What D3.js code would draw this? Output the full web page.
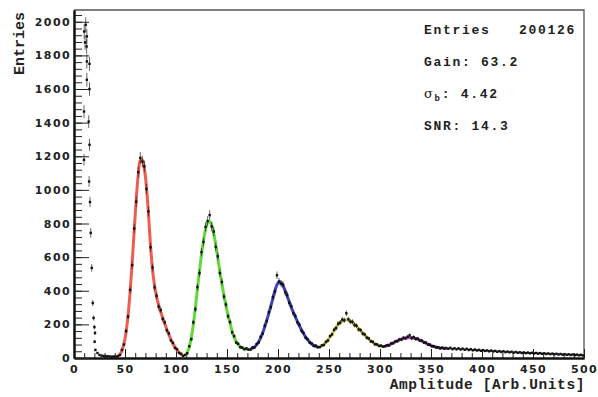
<!DOCTYPE html>
<html>
<head>
<meta charset="utf-8">
<script src="https://cdn.jsdelivr.net/npm/d3@7"></script>
<style>
  body { margin: 0; background: #fff; }
  .tick text { font-family: "DejaVu Sans", sans-serif; font-weight: bold; font-size: 11px; letter-spacing: 1.4px; fill: #222; }
  .tick line { stroke: #222; }
  .domain { stroke: #111; stroke-width: 2; }
  .mono { font-family: "Liberation Mono", "DejaVu Sans Mono", monospace; font-weight: bold; fill: #222; }
</style>
</head>
<body>
<div id="chart"></div>
<script>
// ---------------- data ----------------
// axis ticks
let xTicks = [0, 50, 100, 150, 200, 250, 300, 350, 400, 450, 500]
let yTicks = [0, 200, 400, 600, 800, 1000, 1200, 1400, 1600, 1800, 2000]
let yMax = 2070

// histogram bins are 2 units wide, each array starts at the given bin centre
let binWidth = 2

// pedestal edge, points read one by one (amplitude, entries)
let pedestalAmp = [11.5, 10.0, 12.6, 10.8, 12.4, 12.6, 15.2, 12.6, 15.2, 9.8, 14.4, 15.2, 9.8, 14.8,
                   15.7, 16.4, 17.4, 18.4, 19.2, 20.0, 20.6, 20.2, 21.0]
let pedestalCounts = [1982, 1942, 1913, 1877, 1853, 1764, 1750, 1655, 1600, 1466, 1406, 1268, 1179, 1050,
                      928, 744, 536, 327, 238, 184, 149, 97, 48]

// between pedestal and first peak
let gapStart = 23
let gapCounts = [30, 18, 14, 12, 10, 11, 9, 8, 9, 8]

// fitted ranges, one per photo-electron peak
let fitNames = ["1 p.e.", "2 p.e.", "3 p.e.", "4 p.e.", "5 p.e."]
let fitStarts = [43, 109, 173, 241, 305]

let redCounts = [11, 18, 48, 80, 160, 246, 405, 552, 770, 930, 1105, 1190, 1168, 1140, 1005, 872, 658,
                 538, 420, 370, 305, 285, 232, 212, 164, 146, 104, 90, 60, 52, 30, 25, 12]
let redFit = [9, 21, 44, 85, 152, 254, 392, 565, 757, 943, 1091, 1174, 1178, 1125, 1020, 860, 670,
              525, 430, 362, 315, 275, 238, 204, 170, 140, 110, 85, 65, 48, 33, 22, 14]

let greenCounts = [18, 28, 70, 112, 212, 290, 422, 505, 630, 690, 780, 815, 850, 782, 752, 660,
                   605, 505, 452, 365, 318, 248, 214, 152, 130, 92, 84, 64, 62, 52, 57, 50]
let greenFit = [15, 32, 65, 120, 200, 300, 410, 515, 615, 700, 765, 805, 812, 790, 740, 672,
                595, 515, 440, 372, 310, 255, 208, 160, 125, 98, 80, 68, 60, 56, 54, 53]

let blueCounts = [50, 62, 63, 82, 92, 126, 145, 192, 220, 272, 303, 362, 395, 492, 455, 442, 436,
                  392, 375, 328, 308, 266, 250, 212, 198, 162, 150, 121, 112, 92, 86, 72, 73, 64]
let blueFit = [54, 58, 66, 78, 96, 120, 150, 185, 225, 265, 310, 355, 400, 436, 452, 448, 430,
               400, 368, 335, 302, 272, 245, 218, 192, 168, 146, 126, 109, 95, 84, 75, 70, 67]

let yellowCounts = [65, 75, 78, 96, 104, 130, 140, 168, 178, 204, 210, 228, 224, 266, 230, 216,
                    215, 196, 192, 170, 166, 145, 140, 121, 116, 99, 96, 82, 81, 72, 73, 68]
let yellowFit = [68, 72, 80, 92, 108, 125, 143, 162, 182, 199, 213, 222, 227, 228, 226, 220,
                 211, 200, 188, 175, 162, 149, 137, 125, 113, 102, 93, 85, 79, 74, 71, 70]

let magentaCounts = [70, 76, 75, 87, 88, 99, 100, 110, 110, 120, 117, 126, 135, 118, 124, 113,
                     115, 104, 103, 92, 91, 80, 79, 70, 70, 63, 64, 58, 61, 56, 59]
let magentaFit = [71, 74, 78, 84, 90, 96, 102, 107, 112, 116, 119, 121, 122, 121, 119, 116,
                  112, 107, 101, 95, 89, 83, 77, 72, 68, 65, 62, 60, 59, 58, 57]

// high amplitude tail, not fitted
let tailStart = 367
let tailCounts = [55, 60, 53, 58, 52, 57, 51, 55, 49, 54, 48, 52, 46, 50, 45, 48, 43, 47, 42, 45,
                  40, 44, 39, 42, 37, 41, 36, 40, 35, 38, 34, 37, 32, 36, 31, 34, 30, 33, 29, 32,
                  28, 31, 27, 30, 26, 29, 25, 28, 24, 27, 23, 26, 22, 25, 21, 24, 20, 23, 19, 22,
                  18, 21, 17, 20, 16, 19, 15]

// stat box
let statEntries = "200126"
let statGain = "63.2"
let statSigma = "4.42"
let statSNR = "14.3"

let fitCounts = [redCounts, greenCounts, blueCounts, yellowCounts, magentaCounts]
let fitCurves = [redFit, greenFit, blueFit, yellowFit, magentaFit]

// ---------------- drawing ----------------
let fitColors = ["#ee5c52", "#62d83a", "#3c46c8", "#d2d034", "#b94ccb"]

let svg = d3.select("#chart")
  .append("svg")
  .attr("width", 598)
  .attr("height", 397)

let xScale = d3.scaleLinear().domain([0, 500]).range([74, 584])
let yScale = d3.scaleLinear().domain([0, yMax]).range([358, 10])

// turn a run of bins into points
function toPoints(start, counts) {
  return counts.map((c, i) => ({x: start + i * binWidth, y: c}))
}

// frame (top and right)
svg.append("path")
   .attr("d", `M${xScale(0)},${yScale(yMax)} H${xScale(500)} V${yScale(0)}`)
   .attr("fill", "none")
   .attr("stroke", "#555")
   .attr("stroke-width", 1.3)

// minor ticks first, then major ticks with labels (ticks point inward)
svg.append("g")
   .attr("transform", `translate(0,${yScale(0)})`)
   .call(d3.axisBottom(xScale).tickValues(d3.range(0, 501, 10)).tickSize(-5).tickSizeOuter(0).tickFormat(""))
svg.append("g")
   .attr("transform", `translate(0,${yScale(0)})`)
   .call(d3.axisBottom(xScale).tickValues(xTicks).tickSize(-9).tickSizeOuter(0).tickPadding(7))

svg.append("g")
   .attr("transform", `translate(${xScale(0)},0)`)
   .call(d3.axisLeft(yScale).tickValues(d3.range(0, yMax, 40)).tickSize(-8).tickSizeOuter(0).tickFormat(""))
svg.append("g")
   .attr("transform", `translate(${xScale(0)},0)`)
   .call(d3.axisLeft(yScale).tickValues(yTicks).tickSize(-15).tickSizeOuter(0).tickPadding(3)
           .tickFormat(d3.format("d")))

// fit curves
let line = d3.line()
  .x(d => xScale(d.x))
  .y(d => yScale(d.y))
  .curve(d3.curveCatmullRom)

svg.selectAll("path.fit")
   .data(fitCurves)
   .enter()
   .append("path")
   .attr("class", "fit")
   .attr("d", (d, i) => line(toPoints(fitStarts[i], d)))
   .attr("fill", "none")
   .attr("stroke", (d, i) => fitColors[i])
   .attr("stroke-width", 3)
   .attr("stroke-linejoin", "round")

// data points
let points = pedestalAmp.map((a, i) => ({x: a, y: pedestalCounts[i]}))
  .concat(toPoints(gapStart, gapCounts))
fitCounts.forEach((c, i) => { points = points.concat(toPoints(fitStarts[i], c)) })
points = points.concat(toPoints(tailStart, tailCounts))

// small statistical error bars
svg.selectAll("line.err")
   .data(points)
   .enter()
   .append("line")
   .attr("class", "err")
   .attr("x1", d => xScale(d.x))
   .attr("x2", d => xScale(d.x))
   .attr("y1", d => yScale(d.y + Math.sqrt(d.y)))
   .attr("y2", d => yScale(Math.max(0, d.y - Math.sqrt(d.y))))
   .attr("stroke", "#222")
   .attr("stroke-width", 0.7)

svg.selectAll("rect.pt")
   .data(points)
   .enter()
   .append("rect")
   .attr("class", "pt")
   .attr("x", d => xScale(d.x) - 1.2)
   .attr("y", d => yScale(d.y) - 1.2)
   .attr("width", 2.4)
   .attr("height", 2.4)
   .style("fill", "#111")

// axis titles
svg.append("text")
   .attr("class", "mono")
   .attr("x", 585)
   .attr("y", 389)
   .attr("text-anchor", "end")
   .style("font-size", "14.5px")
   .style("letter-spacing", "0.6px")
   .text("Amplitude [Arb.Units]")

svg.append("text")
   .attr("class", "mono")
   .attr("transform", "translate(24,12) rotate(-90)")
   .attr("text-anchor", "end")
   .style("font-size", "15px")
   .text("Entries")

// stat box
let stat = svg.append("g").attr("class", "mono").style("font-size", "13px").style("letter-spacing", "1.7px")
stat.append("text").attr("x", 424).attr("y", 34).text("Entries")
stat.append("text").attr("x", 576).attr("y", 34).attr("text-anchor", "end").text(statEntries)
stat.append("text").attr("x", 424).attr("y", 66).text("Gain: " + statGain)
let sig = stat.append("text").attr("x", 424).attr("y", 98)
sig.append("tspan").style("font-family", "'DejaVu Serif', serif").style("font-weight", "normal").text("σ")
sig.append("tspan").attr("dy", 3).style("font-size", "9px").text("b")
sig.append("tspan").attr("dy", -3).text(": " + statSigma)
stat.append("text").attr("x", 424).attr("y", 130).text("SNR: " + statSNR)
</script>
</body>
</html>
